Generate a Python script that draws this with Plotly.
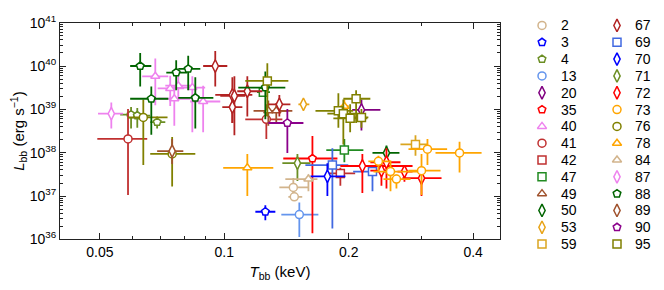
import math
import plotly.graph_objects as go

# ---- legend / source definitions ----
sources = ["2", "3", "4", "13", "20", "35", "40", "41", "42", "47", "49", "50", "53", "59",
           "67", "69", "70", "71", "72", "73", "76", "78", "84", "87", "88", "89", "90", "95"]
colors = ["#D2B48C", "#0000FF", "#6B8E23", "#6495ED", "#800080", "#FF0000", "#EE82EE", "#C03030",
          "#C03030", "#228B22", "#A0522D", "#006400", "#E8A317", "#DAA520",
          "#B22222", "#4169E1", "#0000FF", "#6B8E23", "#FF0000", "#FFA500", "#808000", "#FFA500",
          "#D2B48C", "#EE82EE", "#006400", "#A0522D", "#8B008B", "#808000"]
symbols = ["circle", "pentagon", "pentagon", "circle", "diamond-tall", "pentagon", "triangle-up", "circle",
           "square", "square", "triangle-up", "diamond-tall", "diamond-tall", "square",
           "diamond-tall", "square", "diamond-tall", "diamond-tall", "diamond-tall", "circle", "circle", "triangle-up",
           "triangle-up", "diamond-tall", "pentagon", "diamond-tall", "pentagon", "square"]

# ---- data points (T in keV, L in erg/s), with lower/upper bounds ----
pt_src = ["2", "2", "3", "4", "4", "4", "13", "20", "35",
          "40", "40", "40", "40", "40", "40", "41", "41", "42", "47", "47", "49", "49", "50", "53", "59",
          "67", "67", "67", "67", "67", "67", "69", "69", "70", "71",
          "72", "72", "72", "72", "72", "73", "73", "73", "73", "73", "73",
          "76", "76", "78", "78", "84", "87",
          "88", "88", "88", "88", "88", "88", "89", "90",
          "95", "95", "95", "95", "95", "95"]
T = [0.1469, 0.1477, 0.1257, 0.0595, 0.0616, 0.0688, 0.1519, 0.2147, 0.1634,
     0.0681, 0.0740, 0.0774, 0.0757, 0.0837, 0.0889, 0.0585, 0.1264, 0.1909, 0.1952, 0.1243, 0.1278, 0.1336,
     0.2468, 0.1554, 0.2901,
     0.0951, 0.1046, 0.1058, 0.1046, 0.1137, 0.1359, 0.1826, 0.2283, 0.1776, 0.1503,
     0.2158, 0.2468, 0.2400, 0.2728, 0.3000, 0.3101, 0.3708, 0.2360, 0.2524, 0.3000, 0.2609,
     0.0637, 0.0748, 0.1137, 0.1952, 0.1598, 0.0533,
     0.0626, 0.0765, 0.0818, 0.0666, 0.0851, 0.1257, 0.0748, 0.1421,
     0.1271, 0.1888, 0.2084, 0.1941, 0.2016, 0.2147]
T_lo = [0.1359, 0.1429, 0.1189, 0.0560, 0.0580, 0.0662, 0.1374, 0.2039, 0.1389,
        0.0633, 0.0690, 0.0720, 0.0693, 0.0774, 0.0827, 0.0493, 0.1124, 0.1786, 0.1765, 0.1200, 0.1177, 0.1250,
        0.2283, 0.1511, 0.2668,
        0.0889, 0.0951, 0.0978, 0.0989, 0.1075, 0.1271, 0.1571, 0.2050, 0.1616, 0.1382,
        0.1909, 0.2256, 0.2256, 0.2624, 0.2698, 0.2790, 0.3243, 0.2231, 0.2296, 0.2790, 0.2427,
        0.0585, 0.0662, 0.0994, 0.1910, 0.1405, 0.0495,
        0.0592, 0.0724, 0.0774, 0.0592, 0.0774, 0.1081, 0.0688, 0.1278,
        0.1124, 0.1662, 0.1941, 0.1776, 0.1836, 0.2050]
T_hi = [0.1598, 0.1544, 0.1329, 0.0633, 0.0662, 0.0720, 0.1689, 0.2386, 0.1878,
        0.0732, 0.0800, 0.0827, 0.0827, 0.0899, 0.0978, 0.0651, 0.1382, 0.2073, 0.2170, 0.1290, 0.1420, 0.1461,
        0.2653, 0.1606, 0.3101,
        0.1017, 0.1169, 0.1124, 0.1106, 0.1236, 0.1445, 0.1995, 0.2524, 0.1963, 0.1616,
        0.2854, 0.2668, 0.2550, 0.2854, 0.3354, 0.3460, 0.4192, 0.2524, 0.3067, 0.3335, 0.2822,
        0.0729, 0.0851, 0.1314, 0.2000, 0.1680, 0.0569,
        0.0666, 0.0813, 0.0875, 0.0732, 0.0941, 0.1405, 0.0796, 0.1554,
        0.1429, 0.2050, 0.2256, 0.2096, 0.2219, 0.2231]
L = [1.58e37, 9.6e36, 4.35e36, 7.57e38, 7.21e38, 5.09e38, 3.74e36, 9.7e38, 7.35e37,
     5.79e39, 3.04e39, 3.52e39, 1.76e39, 3.19e39, 1.52e39, 2.08e38, 5.91e38, 3.33e37, 1.15e38, 2.49e39,
     9.25e38, 9.25e38, 9.9e37, 1.31e39, 1.55e38,
     1.0e40, 2.15e39, 2.04e39, 1.13e39, 2.62e39, 1.31e39, 5.2e37, 3.67e37, 2.86e37, 5.74e37,
     4.94e37, 6.03e37, 3.86e37, 3.67e37, 2.59e37, 1.21e38, 9.9e37, 6.34e37, 3.67e37, 3.86e37, 2.47e37,
     6.53e38, 9.4e37, 4.48e37, 1.18e39, 2.47e37, 7.96e38,
     1.0e40, 7.07e39, 8.6e39, 1.76e39, 1.85e39, 3.19e39, 1.09e38, 4.85e38,
     4.52e39, 9.25e38, 1.76e39, 7.96e38, 6.21e38, 6.53e38]
L_lo = [1.17e37, 7.9e36, 2.78e36, 3.6e38, 3.78e38, 3.6e38, 1.14e36, 3.26e38, 1.39e36,
        1.24e39, 1.2e39, 1.68e39, 4.18e38, 2.95e38, 2.95e38, 1.06e37, 2.08e38, 1.74e37, 6.03e37, 2.0e39,
        4.18e38, 5.0e38, 5.74e37, 1.02e39, 8.5e37,
        3.36e39, 4.85e38, 2.54e38, 4.85e38, 6.86e38, 6.86e38, 1.78e36, 1.29e37, 1.01e37, 2.24e37,
        1.17e37, 1.5e37, 1.74e37, 2.13e37, 1.01e37, 5.2e37, 3.49e37, 3.67e37, 1.29e37, 1.06e37, 1.5e37,
        5.2e37, 1.66e37, 1.01e37, 8.0e38, 1.29e37, 3.6e38,
        3.36e39, 2.75e39, 2.75e39, 2.6e38, 3.6e38, 5.91e38, 5.46e37, 9.9e37,
        6.86e38, 3.78e38, 4.85e38, 1.55e38, 2.95e38, 3.78e38]
L_hi = [2.6e37, 1.17e37, 6.15e36, 1.13e39, 1.07e39, 6.86e38, 7.1e36, 1.68e39, 2.42e38,
        1.49e40, 6.0e39, 5.79e39, 3.52e39, 5.79e39, 3.52e39, 1.02e39, 1.31e39, 4.48e37, 2.08e38, 3.0e39,
        1.6e39, 1.4e39, 1.47e38, 1.68e39, 2.54e38,
        2.21e40, 5.51e39, 5.79e39, 2.15e39, 5.79e39, 2.15e39, 1.27e38, 5.2e37, 5.74e37, 9.4e37,
        9.4e37, 1.27e38, 5.74e37, 5.2e37, 3.49e37, 2.08e38, 1.8e38, 8.5e37, 6.65e37, 9.4e37, 3.16e37,
        1.68e39, 2.3e38, 9.4e37, 1.68e39, 3.16e37, 1.44e39,
        2.0e40, 1.35e40, 1.73e40, 3.36e39, 5.51e39, 7.43e39, 2.08e38, 1.02e39,
        1.16e40, 2.37e39, 2.75e39, 1.68e39, 1.31e39, 1.02e39]

x_tickvals = [0.05, 0.1, 0.2, 0.4]
x_ticktext = ["0.05", "0.1", "0.2", "0.4"]
x_minor = [0.06, 0.07, 0.08, 0.09, 0.3]
y_tickvals = [1e36, 1e37, 1e38, 1e39, 1e40, 1e41]
y_ticktext = ["10<sup>%d</sup>" % e for e in range(36, 42)]
y_minor = [k * 10.0 ** e for e in range(36, 41) for k in range(2, 10)]

FONT = "Liberation Sans, Arial, sans-serif"
OFF = 8                      # page body margin
W, H = 664 - 2 * OFF, 290 - 2 * OFF
PL, PR, PT, PB = 60 - OFF, 500 - OFF, 13 - OFF, 245 - OFF  # plot area (figure pixels)

fig = go.Figure()

for s, c, sym in zip(sources, colors, symbols):
    idx = [i for i, p in enumerate(pt_src) if p == s]
    fig.add_trace(go.Scatter(
        x=[T[i] for i in idx], y=[L[i] for i in idx], mode="markers", name=s,
        marker=dict(symbol=sym, size=9 if sym == "diamond-tall" else 8, color="white",
                    line=dict(color=c, width=1.5)),
        error_x=dict(type="data", symmetric=False,
                     array=[T_hi[i] - T[i] for i in idx],
                     arrayminus=[T[i] - T_lo[i] for i in idx],
                     color=c, thickness=1.8, width=0),
        error_y=dict(type="data", symmetric=False,
                     array=[L_hi[i] - L[i] for i in idx],
                     arrayminus=[L[i] - L_lo[i] for i in idx],
                     color=c, thickness=1.8, width=0),
        xaxis="x", yaxis="y", showlegend=False,
    ))

# ---- manual two-column legend (positions in figure pixels) ----
n_rows = 14
leg_x = [542 - OFF, 617 - OFF]
leg_tx = [559 - OFF, 633 - OFF]
for k, (s, c, sym) in enumerate(zip(sources, colors, symbols)):
    col, row = divmod(k, n_rows)
    yy = 16 - OFF + 18 * row
    fig.add_trace(go.Scatter(
        x=[leg_x[col]], y=[yy], mode="markers", xaxis="x2", yaxis="y2", showlegend=False,
        marker=dict(symbol=sym, size=9 if sym == "diamond-tall" else 8, color="white",
                    line=dict(color=c, width=1.5)),
        hoverinfo="skip"))
    fig.add_annotation(x=leg_tx[col], y=yy, xref="x2", yref="y2", text=s, showarrow=False,
                       xanchor="left", yanchor="middle", font=dict(family=FONT, size=14, color="black"))

axis_common = dict(showgrid=False, zeroline=False, showline=True, linecolor="#222", linewidth=1,
                   mirror="allticks", ticks="inside", tickcolor="#222", tickwidth=1, ticklen=6,
                   tickfont=dict(family=FONT, size=14, color="black"), ticklabeloverflow="allow")

fig.update_layout(
    width=W, height=H,
    margin=dict(l=0, r=0, t=0, b=0),
    paper_bgcolor="white", plot_bgcolor="rgba(0,0,0,0)",
    showlegend=False,
    font=dict(family=FONT, size=14, color="black"),
    xaxis=dict(type="log", domain=[PL / W, PR / W],
               range=[math.log10(0.04005), math.log10(0.4645)],
               tickvals=x_tickvals, ticktext=x_ticktext,
               minor=dict(ticks="inside", ticklen=3, tickcolor="#222", tickvals=x_minor),
               title=dict(text="<i>T</i><sub>bb</sub> (keV)", font=dict(family=FONT, size=15), standoff=8),
               **axis_common),
    yaxis=dict(type="log", domain=[(H - PB) / H, (H - PT) / H],
               range=[36, 41],
               tickvals=y_tickvals, ticktext=y_ticktext,
               minor=dict(ticks="inside", ticklen=3, tickcolor="#222", tickvals=y_minor),
               title=dict(text="<i>L</i><sub>bb</sub> (erg s<sup>\u22121</sup>)", font=dict(family=FONT, size=15),
                          standoff=8),
               **axis_common),
    xaxis2=dict(domain=[PR / W, 1.0], range=[PR, W], visible=False, fixedrange=True, anchor="y2"),
    yaxis2=dict(domain=[0, 1], range=[H, 0], visible=False, fixedrange=True, anchor="x2"),
)

fig.write_html("out.html")
